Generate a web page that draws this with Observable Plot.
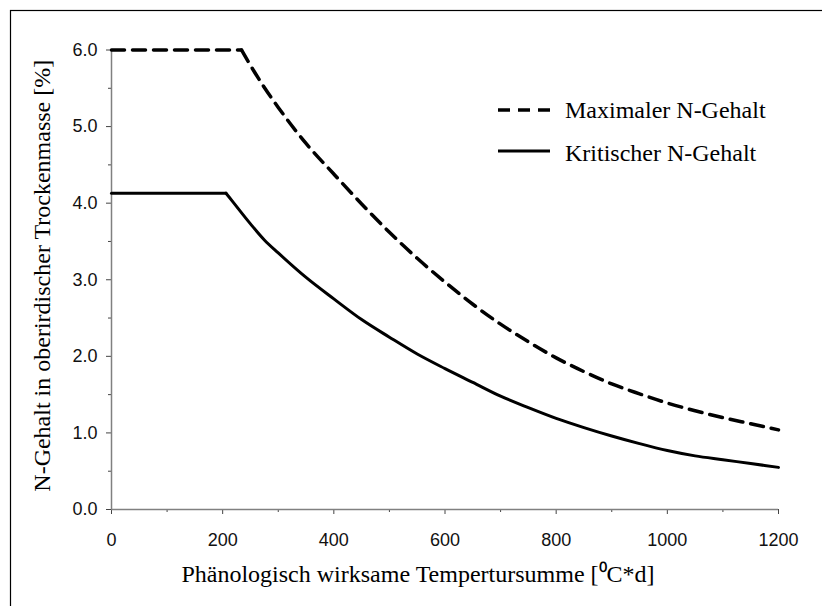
<!DOCTYPE html>
<html>
<head>
<meta charset="utf-8">
<script src="https://cdn.jsdelivr.net/npm/d3@7"></script>
<script src="https://cdn.jsdelivr.net/npm/@observablehq/plot@0.6"></script>
<style>
  html, body { margin: 0; padding: 0; background: #fff; }
  #wrap { position: relative; width: 822px; height: 606px; overflow: hidden; }
  #overlay { position: absolute; left: 0; top: 0; pointer-events: none; }
</style>
</head>
<body>
<div id="wrap"></div>
<script>
// ---- data ----
const seriesNames = ["Maximaler N-Gehalt", "Kritischer N-Gehalt"];

const tsMax  = [0, 234, 250, 275, 300, 350, 400, 450, 500, 550, 600, 650, 700, 750, 800, 850, 900, 950, 1000, 1050, 1100, 1150, 1200];
const nMax   = [6.00, 6.00, 5.80, 5.51, 5.25, 4.78, 4.38, 3.99, 3.62, 3.28, 2.97, 2.68, 2.42, 2.19, 1.98, 1.80, 1.64, 1.51, 1.39, 1.29, 1.20, 1.12, 1.04];

const tsCrit = [0, 206, 217, 250, 275, 300, 350, 400, 450, 500, 550, 600, 650, 700, 750, 800, 850, 900, 950, 1000, 1050, 1100, 1150, 1200];
const nCrit  = [4.13, 4.13, 4.03, 3.73, 3.52, 3.35, 3.03, 2.75, 2.48, 2.25, 2.03, 1.84, 1.66, 1.48, 1.33, 1.19, 1.07, 0.96, 0.86, 0.77, 0.70, 0.65, 0.60, 0.55];

const xMajor = [0, 200, 400, 600, 800, 1000, 1200];
const xMinor = [100, 300, 500, 700, 900, 1100];
const yMajor = [0, 1, 2, 3, 4, 5, 6];
const yMinor = [0.5, 1.5, 2.5, 3.5, 4.5, 5.5];

const xTitle = "Phänologisch wirksame Tempertursumme [⁰C*d]";
const yTitle = "N-Gehalt in oberirdischer Trockenmasse [%]";

// ---- tables built from the arrays ----
const maxData  = tsMax.map((t, i) => ({t, n: nMax[i], i}));
const critData = tsCrit.map((t, i) => ({t, n: nCrit[i], i}));
// plateau = first two points (linear), decline = from the break point on (smooth)
const plateau = arr => arr.filter(d => d.i <= 1);
const decline = arr => arr.filter(d => d.i >= 1);

const SANS = "'Liberation Sans', Arial, Helvetica, sans-serif";
const SERIF = "'Liberation Serif', 'Times New Roman', Times, serif";

const chart = Plot.plot({
  width: 822,
  height: 606,
  marginLeft: 111,
  marginRight: 44,
  marginTop: 49.5,
  marginBottom: 97,
  style: {fontFamily: SANS, background: "#fff", overflow: "visible"},
  x: {domain: [0, 1200]},
  y: {domain: [0, 6]},
  marks: [
    Plot.axisY({ticks: yMinor, tickSize: 3, tickFormat: () => "", label: null, stroke: "#444"}),
    Plot.axisY({ticks: yMajor, tickSize: 5, tickPadding: 9, tickFormat: d3.format(".1f"),
                label: null, fontSize: 18, fill: "#111", stroke: "#444"}),
    Plot.axisX({ticks: xMinor, tickSize: 3, tickFormat: () => "", label: null, stroke: "#444"}),
    Plot.axisX({ticks: xMajor, tickSize: 5, tickPadding: 19, tickFormat: d3.format("d"),
                label: null, fontSize: 18, fill: "#111", stroke: "#444"}),
    Plot.ruleX([0], {stroke: "#808080", strokeWidth: 1.5}),
    Plot.ruleY([0], {stroke: "#808080", strokeWidth: 1.5}),
    Plot.line(plateau(maxData), {x: "t", y: "n", stroke: "#000", strokeWidth: 3.5, strokeDasharray: "13,8"}),
    Plot.line(decline(maxData), {x: "t", y: "n", stroke: "#000", strokeWidth: 3.5, strokeDasharray: "13,8", curve: "monotone-x"}),
    Plot.line(plateau(critData), {x: "t", y: "n", stroke: "#000", strokeWidth: 3}),
    Plot.line(decline(critData), {x: "t", y: "n", stroke: "#000", strokeWidth: 3, curve: "monotone-x"}),
    Plot.text([xTitle], {frameAnchor: "bottom", text: d => d, dy: 65, dx: -27,
                         fontSize: 24, fontFamily: SERIF, fill: "#000", lineAnchor: "middle", textAnchor: "middle"}),
    Plot.text([yTitle], {frameAnchor: "left", text: d => d, rotate: -90, dx: -69, dy: -4,
                         fontSize: 24, fontFamily: SERIF, fill: "#000", lineAnchor: "middle", textAnchor: "middle"})
  ]
});

const wrap = document.getElementById("wrap");
wrap.appendChild(chart);

// ---- overlay: outer border and legend ----
const ov = d3.select(wrap).append("svg")
  .attr("id", "overlay").attr("width", 822).attr("height", 606);

ov.append("rect").attr("x", 10.5).attr("y", 10.5).attr("width", 830).attr("height", 620)
  .attr("fill", "none").attr("stroke", "#000").attr("stroke-width", 1.2);

const legendStyles = [
  {dash: "12,8", width: 3.5, lineY: 110, textY: 117.5},
  {dash: null,   width: 3,   lineY: 151, textY: 161}
];
seriesNames.forEach((name, i) => {
  const s = legendStyles[i];
  ov.append("line").attr("x1", 498).attr("x2", 550).attr("y1", s.lineY).attr("y2", s.lineY)
    .attr("stroke", "#000").attr("stroke-width", s.width)
    .attr("stroke-dasharray", s.dash);
  ov.append("text").attr("x", 565).attr("y", s.textY)
    .attr("font-family", SERIF).attr("font-size", 24).attr("fill", "#000")
    .text(name);
});
</script>
</body>
</html>
